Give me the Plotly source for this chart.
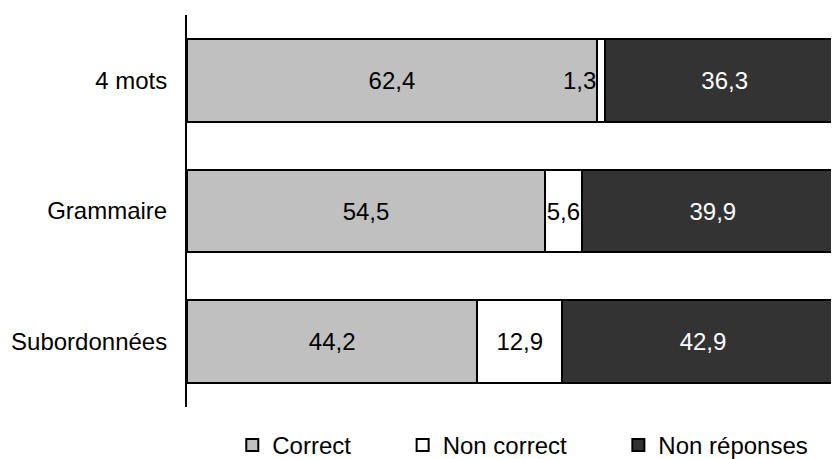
import plotly.graph_objects as go

categories = ["4 mots", "Grammaire", "Subordonnées"]
correct = [62.4, 54.5, 44.2]
non_correct = [1.3, 5.6, 12.9]
non_reponses = [36.3, 39.9, 42.9]
legend_names = ["Correct", "Non correct", "Non réponses"]

colors = ["#c0c0c0", "#ffffff", "#333333"]
text_colors = ["black", "black", "white"]

FONT = "Liberation Sans, Arial, sans-serif"
FS = 24
PAD = "\u00a0" * 7  # spacing between legend entries

def fmt(v):
    return f"{v:.1f}".replace(".", ",")

fig = go.Figure()
all_vals = [correct, non_correct, non_reponses]
for i, (name, vals) in enumerate(zip(legend_names, all_vals)):
    texts = [fmt(v) if v >= 3 else "" for v in vals]
    label = name + (PAD if i < len(legend_names) - 1 else "")
    fig.add_trace(go.Bar(
        name=label, y=categories, x=vals, orientation="h",
        marker=dict(color=colors[i], line=dict(color="black", width=2)),
        text=texts, textposition="inside", insidetextanchor="middle",
        textangle=0, textfont=dict(color=text_colors[i], size=FS, family=FONT),
        constraintext="none",
        hoverinfo="skip",
    ))

# small values whose label sits just left of their narrow bar
for cat, c, v in zip(categories, correct, non_correct):
    if v < 3:
        fig.add_annotation(x=c, y=cat, text=fmt(v), showarrow=False,
                           xanchor="right", xshift=1,
                           font=dict(size=FS, color="black", family=FONT))

# the page body has an 8px margin, so the figure is sized/offset accordingly
fig.update_layout(
    barmode="stack",
    bargap=0.365,
    width=831, height=451,
    margin=dict(l=179, r=0, t=7, b=52, pad=0),
    plot_bgcolor="white", paper_bgcolor="white",
    font=dict(family=FONT, size=FS, color="black"),
    showlegend=True,
    legend=dict(orientation="h", x=0.515, xanchor="center",
                yref="container", y=0.03, yanchor="middle",
                font=dict(size=FS), itemwidth=30, traceorder="normal"),
    xaxis=dict(range=[0, 99.25], visible=False, fixedrange=True),
    yaxis=dict(categoryorder="array", categoryarray=categories,
               autorange="reversed", showline=True, linecolor="black",
               linewidth=2, ticks="outside", ticklen=13, tickcolor="white",
               showgrid=False, zeroline=False),
)

fig.write_html("out.html")
